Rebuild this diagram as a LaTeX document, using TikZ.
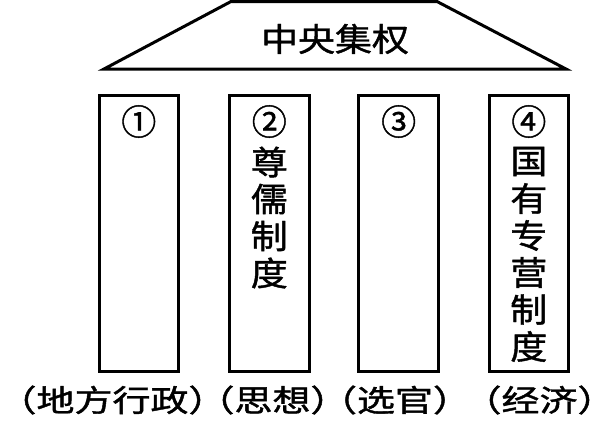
\documentclass[tikz,border=0pt]{standalone}
\usepackage{fontspec}
\newfontfamily\cjk{Noto Sans CJK SC}[BoldFont={Noto Sans CJK SC},BoldFeatures={FakeBold=1.2}]
\newcommand\squash[2][0.88]{\scalebox{1}[#1]{#2}}
\begin{document}
\begin{tikzpicture}[x=1pt,y=-1pt,
  roofline/.style={draw=black, line width=3pt, line join=miter},
  pillar/.style={draw=black, line width=3pt, minimum width=79.5pt, minimum height=276pt, inner sep=0pt},
  bigtext/.style={font=\cjk\bfseries\fontsize{37}{37}\selectfont, inner sep=0pt, anchor=center},
  numtext/.style={font=\cjk\bfseries\fontsize{35}{35}\selectfont, inner sep=0pt, anchor=center},
  labtext/.style={font=\cjk\bfseries\fontsize{38}{38}\selectfont, inner sep=0pt, anchor=center}]
\useasboundingbox (0,0) rectangle (616,432);
% roof
\draw[roofline] (104,69) -- (231,1.5) -- (437,1.5) -- (566,69) -- cycle;
\node[bigtext] (title) at (335,39) {\squash{中央集权}};
% pillars
\node[pillar] (p1) at (138.8,233.5) {};
\node[pillar] (p2) at (269.3,233.5) {};
\node[pillar] (p3) at (398.7,233.5) {};
\node[pillar] (p4) at (528.8,233.5) {};
% circled numbers
\node[numtext] (n1) at (138.8,121.5) {①};
\node[numtext] (n2) at (269.3,121.5) {②};
\node[numtext] (n3) at (398.7,121.5) {③};
\node[numtext] (n4) at (528.8,121.5) {④};
% vertical texts
\foreach \c [count=\i from 0] in {尊,儒,制,度}
  \node[bigtext] (a\i) at (269.3,{162+37*\i}) {\squash[0.9]{\c}};
\foreach \c [count=\i from 0] in {国,有,专,营,制,度}
  \node[bigtext] (b\i) at (528.8,{161.5+37*\i}) {\squash[0.9]{\c}};
% bottom labels
\node[labtext] (l1) at (112.5,400) {\squash[0.8]{（地方行政）}};
\node[labtext] (l2) at (272.5,400) {\squash[0.8]{（思想）}};
\node[labtext] (l3) at (395,400) {\squash[0.8]{（选官）}};
\node[labtext] (l4) at (539.5,400) {\squash[0.8]{（经济）}};
\end{tikzpicture}
\end{document}
